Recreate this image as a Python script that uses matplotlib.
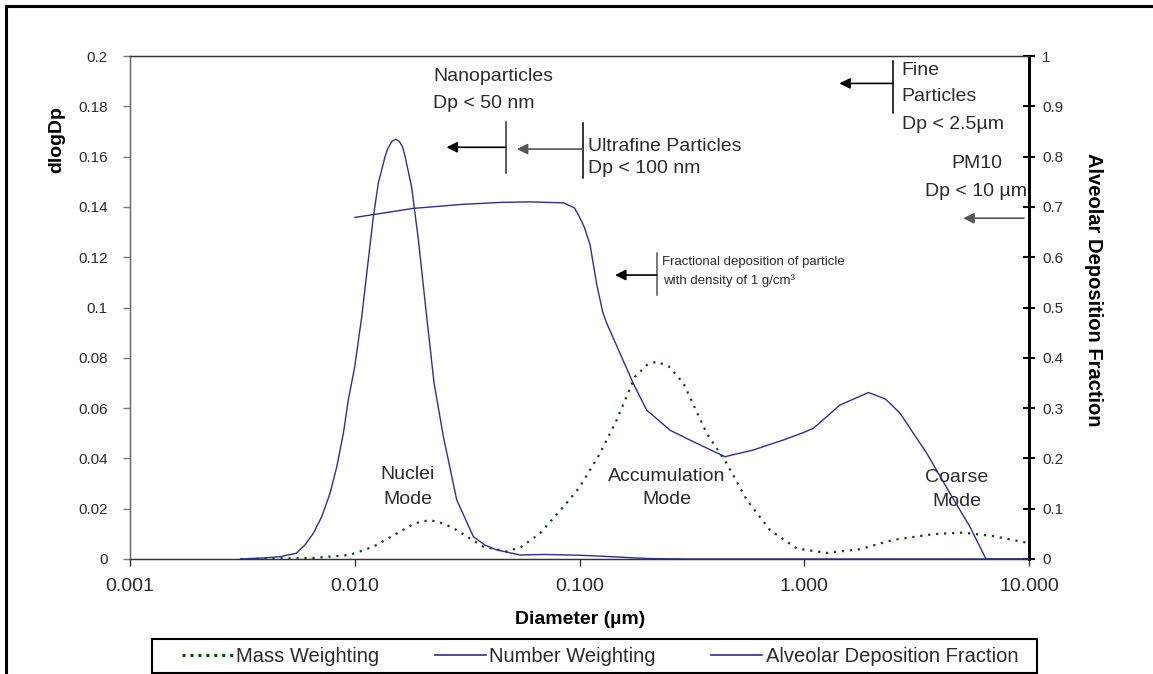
import matplotlib
matplotlib.use("Agg")
import matplotlib.pyplot as plt
from matplotlib.lines import Line2D
from matplotlib.patches import Rectangle
from matplotlib.ticker import FixedLocator, FixedFormatter, NullLocator

plt.rcParams['font.family'] = ['Liberation Sans', 'DejaVu Sans']

# ---------------- data ----------------
mass_d = [0.0031, 0.0065, 0.0095, 0.0121, 0.0154, 0.0185, 0.0216, 0.025, 0.0284,
          0.0373, 0.0474, 0.055, 0.0667, 0.0862, 0.1, 0.1234, 0.1464, 0.1766,
          0.2, 0.2203, 0.25, 0.29, 0.368, 0.452, 0.555, 0.704, 0.926, 1.26, 1.77, 2.49,
          3.75, 5.1, 6.94, 9.77, 10.0]
mass_v = [0.0, 0.0004, 0.0016, 0.0049, 0.0102, 0.0142, 0.0155, 0.0140, 0.0115,
          0.0049, 0.0030, 0.0048, 0.0102, 0.0215, 0.0285, 0.042, 0.0553, 0.0725,
          0.0772, 0.0785, 0.0765, 0.0699, 0.050, 0.038, 0.0235, 0.0115, 0.0042, 0.0024,
          0.0039, 0.0076, 0.0099, 0.0105, 0.0091, 0.0065, 0.0064]

num_d = [0.0031, 0.0039, 0.00465, 0.0055, 0.0060, 0.00654, 0.00713, 0.00776, 0.00832,
         0.0089, 0.00936, 0.01, 0.01074, 0.01149, 0.0121, 0.01273, 0.01364, 0.0140,
         0.0146, 0.0152, 0.0158, 0.0163, 0.01675, 0.0179, 0.0192, 0.0209, 0.02254,
         0.0248, 0.02843, 0.0337, 0.038, 0.0428, 0.0544, 0.07, 0.1, 0.14, 0.2, 0.3, 10.0]
num_v = [0.0, 0.0004, 0.0009, 0.0023, 0.0056, 0.0102, 0.0168, 0.0261, 0.0367,
         0.050, 0.0632, 0.0765, 0.0963, 0.1189, 0.1361, 0.1494, 0.1600, 0.1630,
         0.1660, 0.1669, 0.1660, 0.1640, 0.1600, 0.1480, 0.1268, 0.0963, 0.0699,
         0.0486, 0.0235, 0.0089, 0.0055, 0.0036, 0.0016, 0.0018, 0.0015, 0.0009,
         0.0002, 0.0, 0.0]

alv_d = [0.01, 0.0182, 0.03, 0.045, 0.06, 0.085, 0.095, 0.1, 0.105, 0.1114, 0.1194,
         0.127, 0.1322, 0.1514, 0.1735, 0.199, 0.253, 0.332, 0.444, 0.593, 0.8, 1.0,
         1.1, 1.44, 1.93, 2.3, 2.67, 3.51, 4.45, 5.46, 6.44, 10.0]
alv_v = [0.679, 0.697, 0.705, 0.709, 0.710, 0.708, 0.698, 0.680, 0.660, 0.625, 0.545,
         0.490, 0.4686, 0.409, 0.349, 0.296, 0.256, 0.230, 0.2034, 0.2167, 0.236, 0.252,
         0.260, 0.306, 0.331, 0.318, 0.2896, 0.210, 0.1306, 0.064, 0.0, 0.0]

x_ticks = [0.001, 0.01, 0.1, 1.0, 10.0]
x_tick_labels = ['0.001', '0.010', '0.100', '1.000', '10.000']
y_ticks = [0, 0.02, 0.04, 0.06, 0.08, 0.1, 0.12, 0.14, 0.16, 0.18, 0.2]
y_tick_labels = ['0', '0.02', '0.04', '0.06', '0.08', '0.1', '0.12', '0.14', '0.16', '0.18', '0.2']
y2_ticks = [0, 0.1, 0.2, 0.3, 0.4, 0.5, 0.6, 0.7, 0.8, 0.9, 1.0]
y2_tick_labels = ['0', '0.1', '0.2', '0.3', '0.4', '0.5', '0.6', '0.7', '0.8', '0.9', '1']

# ---------------- figure ----------------
W, H = 1153, 674
fig = plt.figure(figsize=(W / 100, H / 100), dpi=100)

def fx(px):
    return px / W

def fy(py):
    return 1 - py / H

ax = fig.add_axes([fx(130), fy(559), fx(1029) - fx(130), fy(56) - fy(559)])
ax.set_xscale('log')
ax.set_xlim(0.001, 10)
ax.set_ylim(0, 0.2)
ax2 = ax.twinx()
ax2.set_ylim(0, 1)

BLUE = '#2e2e98'
GREEN = '#0b4a0b'
TXT = '#2b2b2b'

ax.plot(mass_d, mass_v, color=GREEN, lw=1.6, linestyle=(0, (1, 2.6)), zorder=3)
ax.plot(num_d, num_v, color=BLUE, lw=1.0, zorder=3, solid_joinstyle='round')
ax2.plot(alv_d, alv_v, color=BLUE, lw=1.0, zorder=3, solid_joinstyle='round')

# ticks
ax.xaxis.set_major_locator(FixedLocator(x_ticks))
ax.xaxis.set_major_formatter(FixedFormatter(x_tick_labels))
ax.xaxis.set_minor_locator(NullLocator())
ax.tick_params(axis='x', direction='out', length=5, width=1, color='#333333',
               labelsize=14, labelcolor=TXT, pad=9)
ax.yaxis.set_major_locator(FixedLocator(y_ticks))
ax.yaxis.set_major_formatter(FixedFormatter(y_tick_labels))
ax.tick_params(axis='y', direction='out', length=5, width=1, color='#777777',
               labelsize=11, labelcolor=TXT, pad=11)
ax2.yaxis.set_major_locator(FixedLocator(y2_ticks))
ax2.yaxis.set_major_formatter(FixedFormatter(y2_tick_labels))
ax2.tick_params(axis='y', direction='inout', length=9, width=1.5, color='black',
                labelsize=11, labelcolor=TXT, pad=5)

for a in (ax, ax2):
    a.spines['left'].set_color('#666666')
    a.spines['left'].set_linewidth(0.9)
    a.spines['top'].set_color('#333333')
    a.spines['top'].set_linewidth(0.9)
    a.spines['bottom'].set_color('#333333')
    a.spines['bottom'].set_linewidth(0.9)
    a.spines['right'].set_color('black')
    a.spines['right'].set_linewidth(2.0)

# axis titles
fig.text(fx(57), fy(140), 'dlogDp', rotation=90, ha='center', va='center',
         fontsize=14, fontweight='bold', color='black')
fig.text(fx(1093), fy(290), 'Alveolar Deposition Fraction', rotation=270, ha='center',
         va='center', fontsize=14.5, fontweight='bold', color='black')
fig.text(fx(580), fy(620), 'Diameter (\u00b5m)', ha='center', va='center',
         fontsize=14, fontweight='bold', color='black')

# annotations (x in diameter, y in left-axis units)
def t(x, y, s, ha='left', size=14):
    ax.text(x, y, s, ha=ha, va='center', fontsize=size, color=TXT, zorder=5)

def vline(x, y0, y1, color='#333333'):
    ax.plot([x, x], [y0, y1], color=color, lw=1.1, zorder=5)

def arrow(x0, x1, y, color='black'):
    ax.annotate('', xy=(x1, y), xytext=(x0, y),
                arrowprops=dict(arrowstyle='-|>', color=color, lw=1.2,
                                mutation_scale=16, shrinkA=0, shrinkB=0),
                zorder=5)

t(0.0223, 0.1918, 'Nanoparticles')
t(0.0223, 0.1812, 'Dp < 50 nm')
vline(0.047, 0.1533, 0.1738)
arrow(0.047, 0.0256, 0.1637, 'black')

t(0.1094, 0.1639, 'Ultrafine Particles')
t(0.1094, 0.1553, 'Dp < 100 nm')
vline(0.1033, 0.1514, 0.1735, 'black')
arrow(0.1033, 0.0526, 0.1630, '#555555')

t(2.714, 0.1944, 'Fine')
t(2.714, 0.1838, 'Particles')
t(2.714, 0.1728, 'Dp < 2.5\u00b5m')
vline(2.49, 0.1772, 0.1981, 'black')
arrow(2.49, 1.432, 0.1891, 'black')

t(5.85, 0.1573, 'PM10', ha='center')
t(9.83, 0.1460, 'Dp < 10 \u00b5m', ha='right')
arrow(9.5, 5.10, 0.1355, '#555555')

t(0.2323, 0.1182, 'Fractional deposition of particle', size=9.5)
t(0.2360, 0.1109, 'with density of 1 g/cm\u00b3', size=9.5)
vline(0.2206, 0.1050, 0.1217, '#555555')
arrow(0.2206, 0.1439, 0.1129, 'black')

t(0.01726, 0.0334, 'Nuclei', ha='center')
t(0.01726, 0.0235, 'Mode', ha='center')
t(0.2443, 0.0327, 'Accumulation', ha='center')
t(0.2443, 0.0235, 'Mode', ha='center')
t(4.76, 0.0325, 'Coarse', ha='center')
t(4.76, 0.0228, 'Mode', ha='center')

# legend (content spread between handle start and last text end, frame drawn separately)
handles = [Line2D([], [], color=GREEN, lw=2.2, linestyle=(0, (1, 1.6))),
           Line2D([], [], color=BLUE, lw=1.2),
           Line2D([], [], color=BLUE, lw=1.2)]
labels = ['Mass Weighting', 'Number Weighting', 'Alveolar Deposition Fraction']
leg = fig.legend(handles, labels, loc='center',
                 bbox_to_anchor=(fx(182), fy(672), fx(1018) - fx(182), fy(642) - fy(672)),
                 mode='expand', ncol=3, frameon=False, borderaxespad=0, borderpad=0,
                 handlelength=2.55, handletextpad=0.15, fontsize=14.5)
for txt in leg.get_texts():
    txt.set_color(TXT)
fig.add_artist(Rectangle((fx(152), fy(673)), fx(1037) - fx(152), fy(639) - fy(673),
                         transform=fig.transFigure, fill=False, edgecolor='black',
                         lw=1.5))

# outer frame (left and top edges)
fig.add_artist(Line2D([fx(6), fx(6)], [fy(6), 0], color='black', lw=2.2,
                      transform=fig.transFigure))
fig.add_artist(Line2D([fx(6), 1], [fy(6), fy(6)], color='black', lw=2.2,
                      transform=fig.transFigure))

fig.savefig('out.png', dpi=100)
